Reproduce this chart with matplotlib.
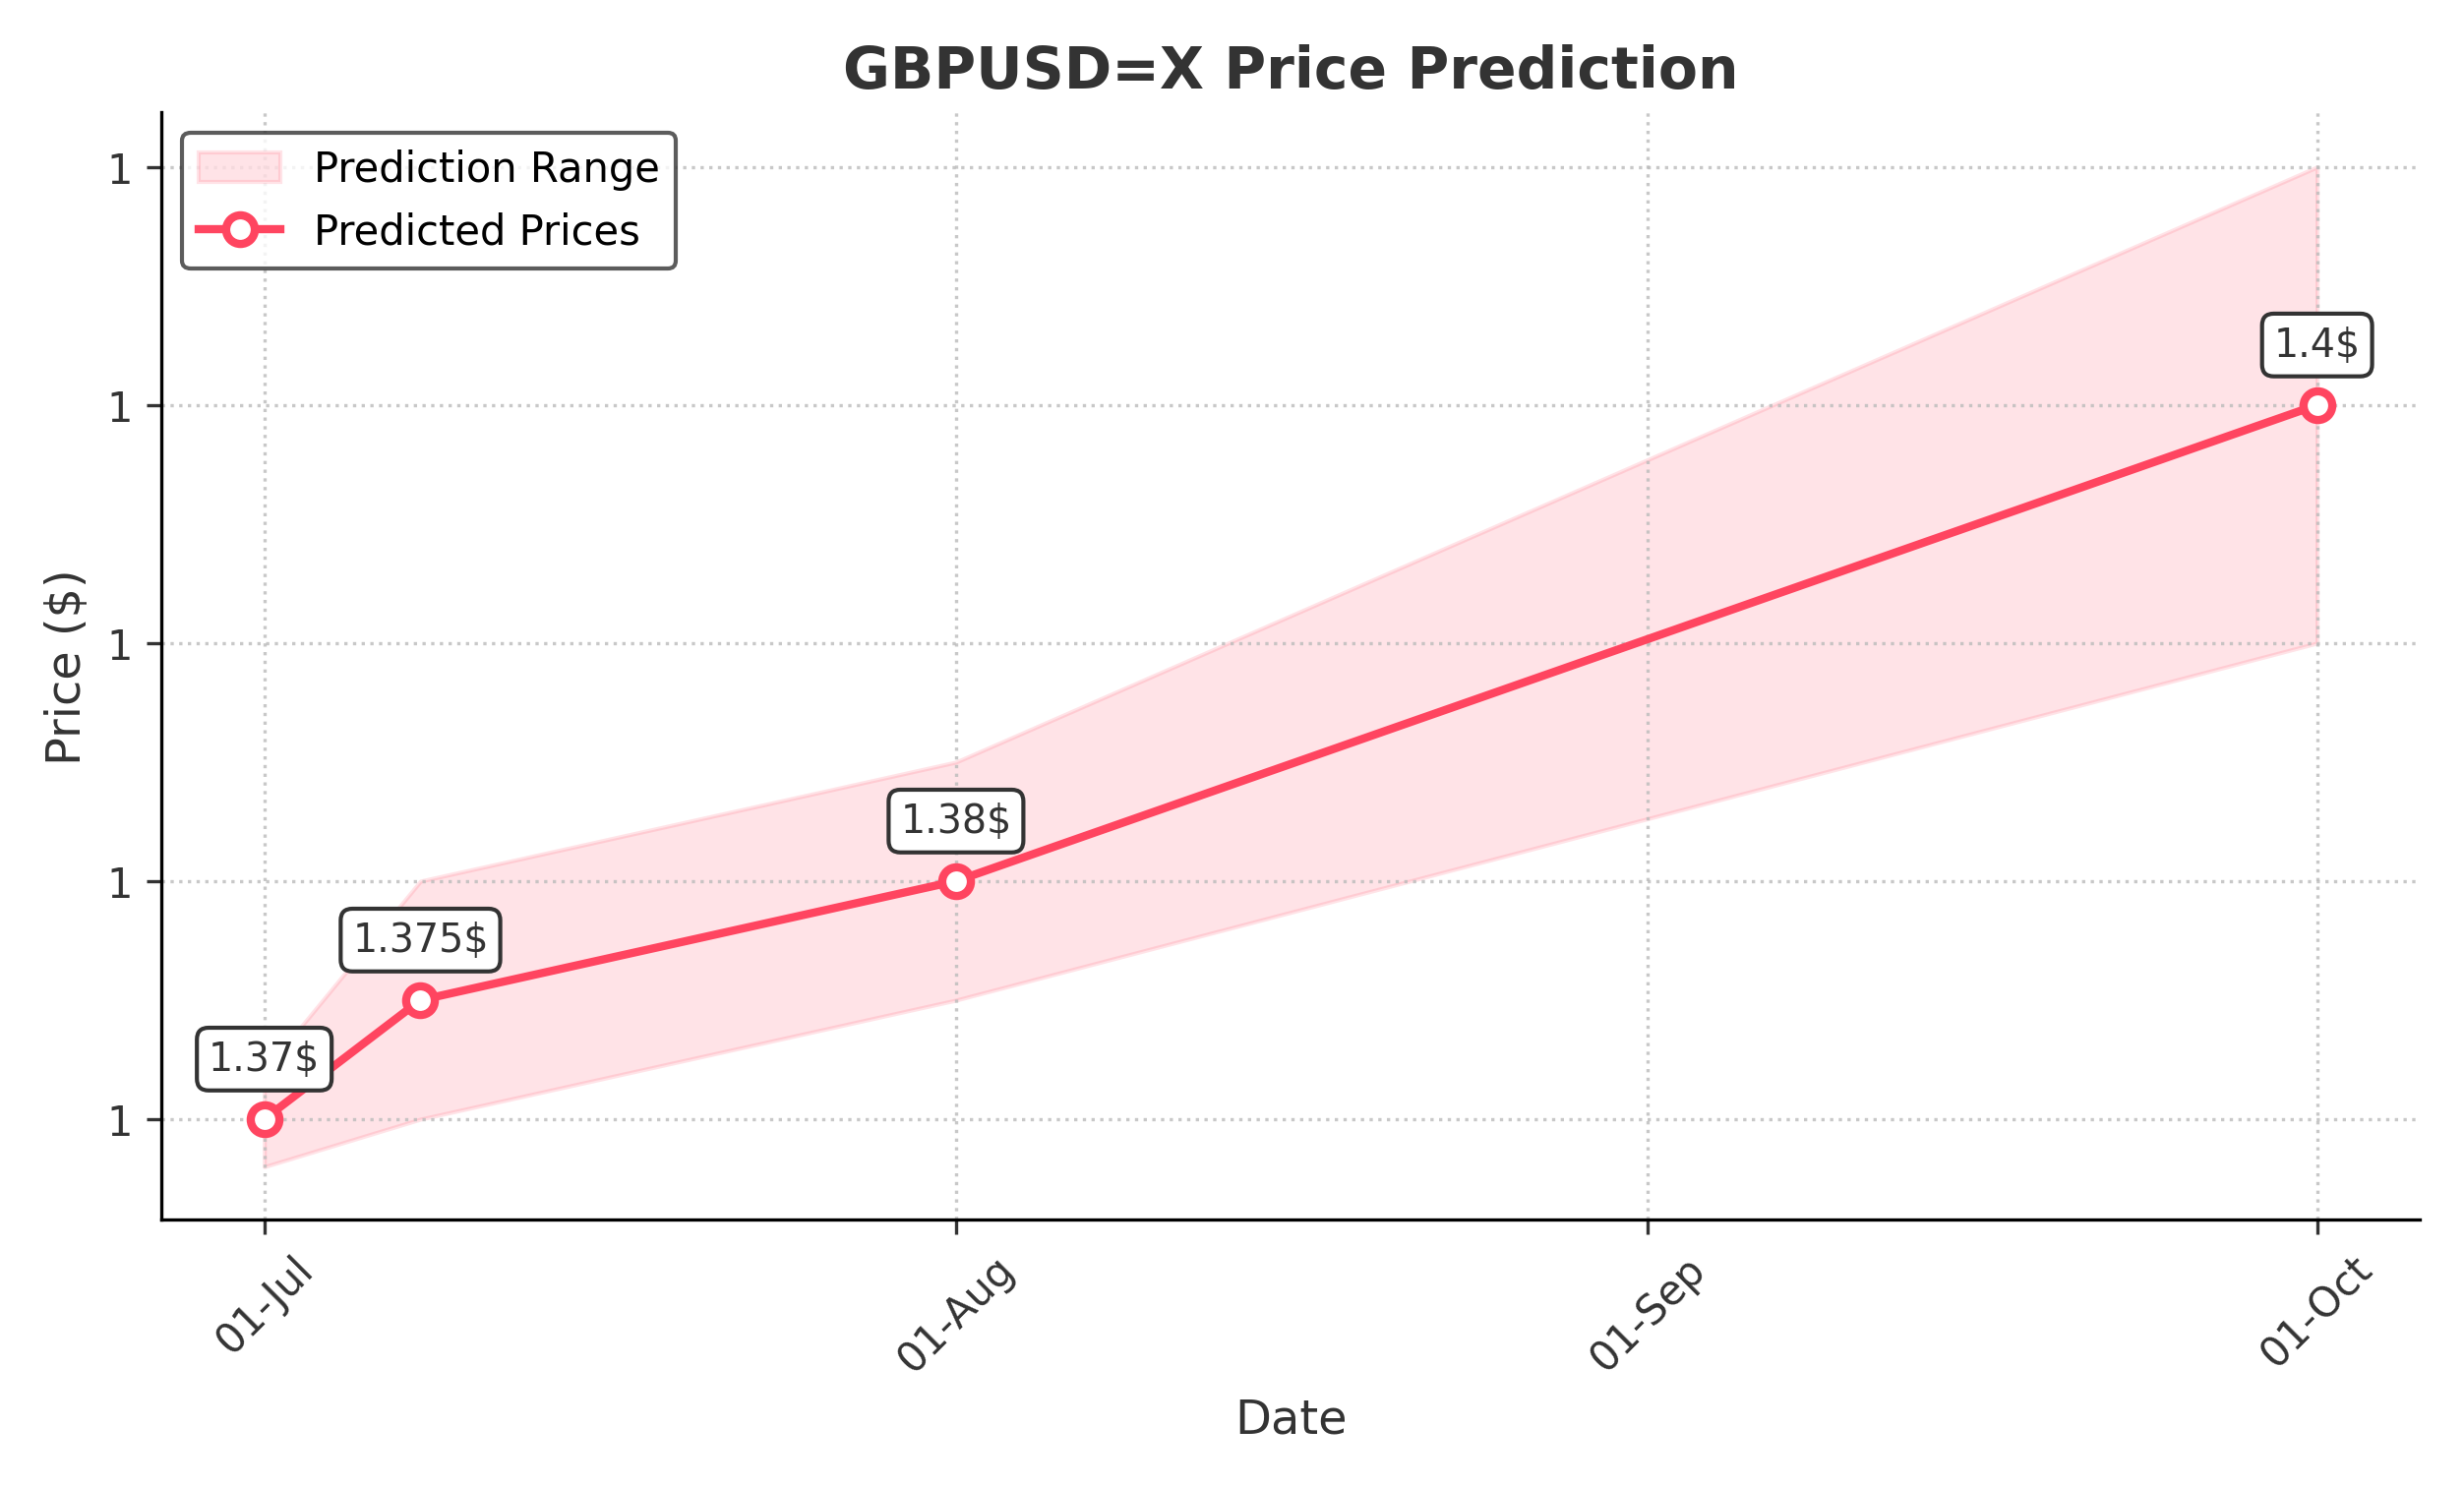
import matplotlib
matplotlib.use("Agg")
import matplotlib.pyplot as plt
import matplotlib.dates as mdates
from matplotlib.ticker import FormatStrFormatter
import pandas as pd

dates = pd.to_datetime(["2024-07-01", "2024-07-08", "2024-08-01", "2024-10-01"])
predicted = [1.37, 1.375, 1.38, 1.40]
lower = [1.368, 1.37, 1.375, 1.39]
upper = [1.372, 1.38, 1.385, 1.41]
labels = ["1.37$", "1.375$", "1.38$", "1.4$"]

col = "#FF4560"
fig, ax = plt.subplots(figsize=(8.35, 5.043), dpi=300)
ax.fill_between(dates, lower, upper, color=col, alpha=0.15, label="Prediction Range")
ax.plot(dates, predicted, color=col, lw=2, marker="o", markersize=7,
        markerfacecolor="white", markeredgewidth=2, label="Predicted Prices")
for d, p, t in zip(dates, predicted, labels):
    ax.annotate(t, (d, p), xytext=(0, 12), textcoords="offset points", ha="center",
                fontsize=9.5, color="#333333",
                bbox=dict(boxstyle="round,pad=0.3", fc="white", ec="#333333", lw=1))

ax.set_title("GBPUSD=X Price Prediction", fontsize=14, fontweight="bold", color="#333333")
ax.set_xlabel("Date", fontsize=11.5, color="#333333")
ax.set_ylabel("Price ($)", fontsize=11.5, color="#333333")
ax.set_xticks(pd.to_datetime(["2024-07-01", "2024-08-01", "2024-09-01", "2024-10-01"]))
ax.xaxis.set_major_formatter(mdates.DateFormatter("%d-%b"))
ax.set_yticks([1.37, 1.38, 1.39, 1.40, 1.41])
ax.yaxis.set_major_formatter(FormatStrFormatter("%.0f"))
ax.set_ylim(1.3658, 1.4123)
plt.setp(ax.get_xticklabels(), rotation=45)
ax.tick_params(colors="#333333", labelsize=10)
ax.grid(True, linestyle=":", color="#bbbbbb", alpha=0.8)
for s in ["top", "right"]:
    ax.spines[s].set_visible(False)
leg = ax.legend(loc="upper left", fontsize=10, fancybox=True, edgecolor="#333333")
handles = leg.legend_handles
fig.tight_layout()
fig.savefig("out.png", dpi=300)
